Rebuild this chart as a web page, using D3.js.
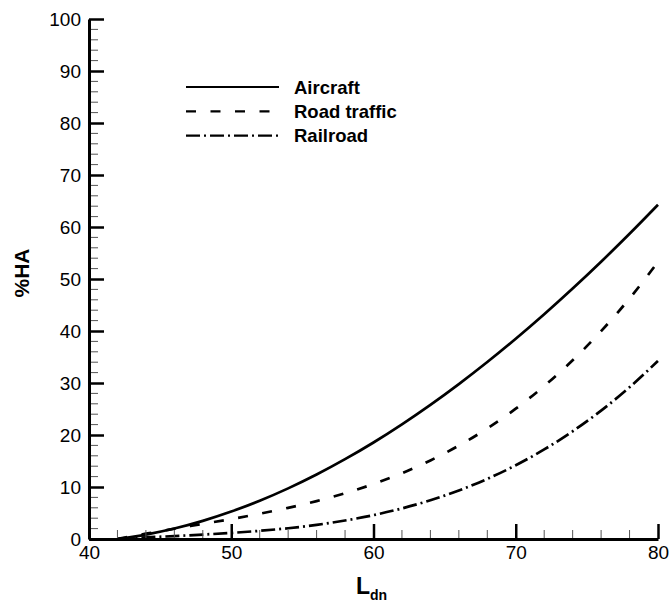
<!DOCTYPE html>
<html><head><meta charset="utf-8">
<script src="https://cdn.jsdelivr.net/npm/d3@7"></script>
<style>body{margin:0;background:#fff}svg{display:block}</style>
</head><body>
<svg id="c" width="669" height="605"></svg>
<script>
const ldn = [42,44,46,48,50,52,54,56,58,60,62,64,66,68,70,72,74,76,78,80];
const aircraft = [0,0.85,2.01,3.49,5.28,7.36,9.74,12.40,15.35,18.56,22.05,25.79,29.79,34.03,38.51,43.22,48.16,53.32,58.69,64.27];
const road = [0,1.02,1.97,2.90,3.84,4.86,5.99,7.29,8.80,10.58,12.66,15.11,17.96,21.26,25.06,29.42,34.37,39.97,46.26,53.29];
const railroad = [0,0.30,0.57,0.85,1.17,1.57,2.07,2.72,3.55,4.59,5.88,7.45,9.33,11.56,14.18,17.22,20.71,24.69,29.19,34.25];
const seriesNames = ["Aircraft","Road traffic","Railroad"];
const xTicks = [40,50,60,70,80];
const yTicks = [0,10,20,30,40,50,60,70,80,90,100];

const svg = d3.select("#c");
const font = "'Liberation Sans', Arial, sans-serif";
const x = d3.scaleLinear().domain([40,80]).range([89,658]);
const y = d3.scaleLinear().domain([0,100]).range([539,19]);

const series = [
  {name:seriesNames[0], vals:aircraft, dash:null},
  {name:seriesNames[1], vals:road, dash:"10,14.5"},
  {name:seriesNames[2], vals:railroad, dash:"14,4,2,4"}
];
const line = d3.line().x(d=>x(d[0])).y(d=>y(d[1])).curve(d3.curveMonotoneX);
series.forEach(s=>{
  svg.append("path").datum(ldn.map((l,i)=>[l,s.vals[i]]))
    .attr("d",line).attr("fill","none").attr("stroke","#000")
    .attr("stroke-width",2.7).attr("stroke-dasharray",s.dash);
});

// minor ticks
const xMinor = d3.range(40,80.01,2).filter(v=>v%10!==0);
const yMinor = d3.range(0,100.01,2).filter(v=>v%10!==0);
svg.append("g").selectAll("line").data(xMinor).join("line")
  .attr("x1",d=>x(d)).attr("x2",d=>x(d)).attr("y1",y(0)).attr("y2",y(0)-9)
  .attr("stroke","#555").attr("stroke-width",1);
svg.append("g").selectAll("line").data(yMinor).join("line")
  .attr("y1",d=>y(d)).attr("y2",d=>y(d)).attr("x1",x(40)).attr("x2",x(40)+9)
  .attr("stroke","#555").attr("stroke-width",1);

// axes via d3
const xAxis = svg.append("g").attr("transform",`translate(0,${y(0)})`)
  .call(d3.axisBottom(x).tickValues(xTicks).tickSizeInner(-15).tickSizeOuter(0).tickPadding(20));
const yAxis = svg.append("g").attr("transform",`translate(${x(40)},0)`)
  .call(d3.axisLeft(y).tickValues(yTicks).tickSizeInner(-15).tickSizeOuter(0).tickPadding(8));
[xAxis,yAxis].forEach(g=>{
  g.select(".domain").attr("stroke","#000").attr("stroke-width",3);
  g.selectAll(".tick line").attr("stroke","#000").attr("stroke-width",2.5);
  g.selectAll("text").attr("font-family",font).attr("font-size",19).attr("fill","#000");
});
xAxis.selectAll("text").attr("dy","0em");
yAxis.selectAll("text").attr("dy","0.35em");

// axis titles
svg.append("text").attr("transform","translate(29,273) rotate(-90)")
  .attr("text-anchor","middle").attr("font-family",font).attr("font-weight","bold")
  .attr("font-size",21).text("%HA");
const xt = svg.append("text").attr("x",356).attr("y",594).attr("text-anchor","start")
  .attr("font-family",font).attr("font-weight","bold").attr("font-size",23);
xt.append("tspan").text("L");
xt.append("tspan").attr("font-size",14).attr("dy",6).text("dn");

// legend
const lg = svg.append("g");
series.forEach((s,i)=>{
  const yy = 87 + i*24.3;
  lg.append("line").attr("x1",186).attr("x2",279).attr("y1",yy).attr("y2",yy)
    .attr("stroke","#000").attr("stroke-width",2.2).attr("stroke-dasharray",s.dash);
  lg.append("text").attr("x",294).attr("y",yy).attr("dy","0.36em")
    .attr("font-family",font).attr("font-weight","bold").attr("font-size",18.5).text(s.name);
});
</script>
</body></html>
